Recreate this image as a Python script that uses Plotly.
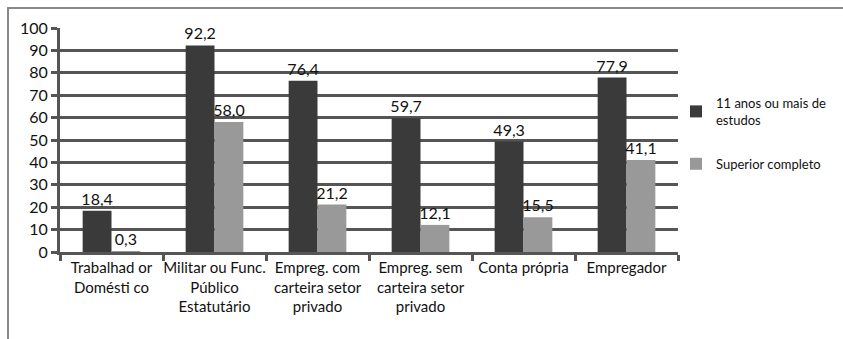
import plotly.graph_objects as go

categories = ["Trabalhad or<br>Domésti co", "Militar ou Func.<br>Público<br>Estatutário",
              "Empreg. com<br>carteira setor<br>privado", "Empreg. sem<br>carteira setor<br>privado",
              "Conta própria", "Empregador"]
series1_name = "11 anos ou mais de<br>estudos"
series1 = [18.4, 92.2, 76.4, 59.7, 49.3, 77.9]
series2_name = "Superior completo"
series2 = [0.3, 58.0, 21.2, 12.1, 15.5, 41.1]
yticks = [0, 10, 20, 30, 40, 50, 60, 70, 80, 90, 100]

FONT = "Lato, Carlito, Calibri, sans-serif"
label_font = dict(family=FONT, size=16, color="#111111")

fig = go.Figure()
fig.add_trace(go.Bar(x=categories, y=series1, name=series1_name, marker_color="#3a3a3a",
                     marker_line_width=0, texttemplate="%{y:.1f}", textposition="outside",
                     constraintext="none",
                     textfont=label_font, cliponaxis=False, legendgroup="a"))
fig.add_trace(go.Bar(x=categories, y=series2, name=series2_name, marker_color="#999999",
                     marker_line_width=0, texttemplate="%{y:.1f}", textposition="outside",
                     constraintext="none",
                     textfont=label_font, cliponaxis=False, legendgroup="b"))

W, H = 843, 339
L, R, T, B = 60, 165, 28, 87
pw, ph = W - L - R, H - T - B

def px2paper_x(px):
    return (px - L) / pw

def py2paper_y(py):
    return (H - B - py) / ph

fig.update_layout(
    width=W, height=H,
    margin=dict(l=L, r=R, t=T, b=B, autoexpand=False),
    paper_bgcolor="white", plot_bgcolor="white",
    separators=",.",
    barmode="group", bargap=0.44, bargroupgap=0,
    font=dict(family=FONT, size=13, color="#111111"),
    xaxis=dict(showline=True, linecolor="#555555", linewidth=3, ticks="outside",
               tickson="boundaries", ticklen=6, tickwidth=3, tickcolor="#555555",
               tickangle=0, automargin=False,
               tickfont=dict(family=FONT, size=15, color="#111111"), showgrid=False),
    yaxis=dict(range=[0, 100], tickvals=yticks, showgrid=True, gridcolor="#555555",
               gridwidth=3, showline=True, linecolor="#555555", linewidth=3,
               ticks="outside", ticklen=6, tickwidth=3, tickcolor="#555555", automargin=False,
               tickfont=dict(family=FONT, size=16, color="#111111"), zeroline=False),
    legend=dict(x=px2paper_x(676), y=py2paper_y(88), xanchor="left", yanchor="top",
                font=dict(family=FONT, size=13, color="#111111"),
                tracegroupgap=24, itemwidth=30, bgcolor="rgba(0,0,0,0)"),
    showlegend=True,
    shapes=[dict(type="rect", xref="paper", yref="paper",
                 x0=px2paper_x(8), x1=px2paper_x(850), y0=py2paper_y(360), y1=py2paper_y(8),
                 line=dict(color="#888888", width=2), fillcolor="rgba(0,0,0,0)", layer="below")],
)

fig.write_html("out.html")
